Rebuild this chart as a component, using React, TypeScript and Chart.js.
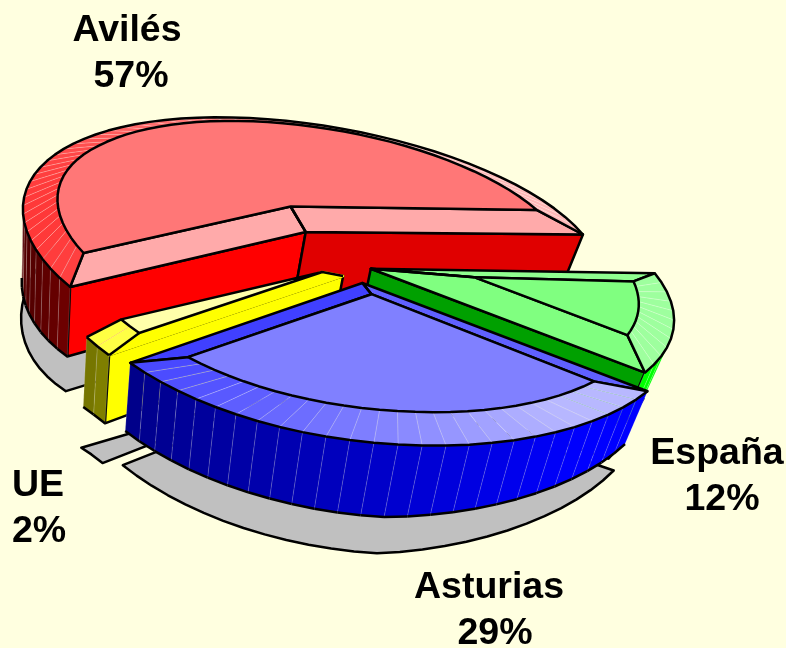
import React, { useEffect, useRef } from "react";
import { Chart, registerables } from "chart.js";

Chart.register(...registerables);

// data (order is clockwise from the east)
const categories = ["España", "Asturias", "UE", "Avilés"];
const shares = [12, 29, 2, 57];

// styling
const explodeOffsets = [2, 5, 8, 33];
const sliceLift = [8, 0, 5, 0];
const sliceRadius = [0.96, 1, 1, 0.98];
const sliceShiftU = [0.01, 0, 0, -0.03];
const baseColors = ["#00FF00", "#0000FF", "#FFFF00", "#FF0000"];
const topColors = ["#80FF80", "#8080FF", "#FFFFAA", "#FF7777"];
const bevelStart = ["#90FF90", "#6060FF", "#FFFF00", "#FFAAAA"];
const bevelEnd = ["#80FF80", "#4040FF", "#FFFFAA", "#FFAAAA"];
const bevelMaxTint = [0.62, 0.72, 0.72, 0.72];
const wallStart = ["#00A000", "#0000FF", "#FFFF00", "#FF0000"];
const wallEnd = ["#00A000", "#0000C0", "#FFFF00", "#E00000"];
const paintOrder = [3, 0, 2, 1];
const labelPlaces: Record<string, [number, number, CanvasTextAlign, number]> = {
  "Avilés": [127, 31, "center", 4],
  "España": [717, 454, "center", 5],
  "Asturias": [489, 588, "center", 6],
  "UE": [12, 486, "left", 0],
};

// projection of the pie plane onto the canvas
const CX = 360, CY = 276, RX = 298, RY = 139, SKEW_A = 66, SKEW_B = 16, PERSP = 0.125, ROLL = 0.025;
const WALL = 60, BEVEL = 10, INSET = 0.12, SHADOW_DROP = 30, LW = 2.5;

type Pt = [number, number];
const project = (u: number, v: number, z: number): Pt => {
  const w = 1 / (1 - PERSP * v);
  const X = CX + (RX * u + SKEW_A * v - SKEW_B * v * v) * w;
  const Y = CY + RY * v * w + ROLL * (X - CX);
  const tilt = (X + 12) * 0.00057;
  const hf = 1.05 - Math.max(0, X - 400) * 0.001 + Math.max(0, 100 - X) * 0.003;
  return [X + z * tilt, Y - z * w * hf];
};
const area = (p: Pt[]) => {
  let s = 0;
  p.forEach((a, i) => {
    const b = p[(i + 1) % p.length];
    s += a[0] * b[1] - b[0] * a[1];
  });
  return s;
};
const hex = (c: string) => [1, 3, 5].map((i) => parseInt(c.slice(i, i + 2), 16));
const toHex = (a: number[]) =>
  "rgb(" + a.map((x) => Math.round(Math.max(0, Math.min(255, x)))).join(",") + ")";
const scale = (c: string, t: number) => toHex(hex(c).map((x) => x * t));
const tint = (c: string, t: number) => toHex(hex(c).map((x) => x + (255 - x) * t));
const clamp = (x: number, a: number, b: number) => Math.max(a, Math.min(b, x));

const poly = (ctx: CanvasRenderingContext2D, p: Pt[], fill: string, stroke: string, lw: number) => {
  ctx.beginPath();
  p.forEach((q, i) => (i ? ctx.lineTo(q[0], q[1]) : ctx.moveTo(q[0], q[1])));
  ctx.closePath();
  ctx.fillStyle = fill;
  ctx.fill();
  if (lw > 0) {
    ctx.strokeStyle = stroke;
    ctx.lineWidth = lw;
    ctx.stroke();
  }
};

const pie3d = {
  id: "pie3d",
  beforeDatasetsDraw(chart: any) {
    const ctx: CanvasRenderingContext2D = chart.ctx;
    const arcs = chart.getDatasetMeta(0).data;
    ctx.save();
    ctx.lineJoin = "round";
    const geo = arcs.map((el: any, i: number) => {
      const a0 = el.startAngle, a1 = el.endAngle, m = (a0 + a1) / 2, half = (a1 - a0) / 2;
      const e = el.options.offset / 100;
      const ex = e * Math.cos(m) + sliceShiftU[i], ey = e * Math.sin(m);
      const n = Math.max(2, Math.round((a1 - a0) / (4 * Math.PI / 180)));
      const angles = Array.from({ length: n + 1 }, (_, k) => a0 + ((a1 - a0) * k) / n);
      return { a0, a1, m, half, ex, ey, angles, R: sliceRadius[i] };
    });

    // shadows on the ground
    const edge = (g: any, z: number): Pt[] => [
      project(g.ex, g.ey, z),
      ...g.angles.map((a: number) => project(g.ex + g.R * Math.cos(a), g.ey + g.R * Math.sin(a), z)),
    ];
    paintOrder.forEach((i) => {
      poly(ctx, edge(geo[i], -WALL - SHADOW_DROP), "#C0C0C0", "#000", LW);
    });

    paintOrder.forEach((i) => {
      const g = geo[i];
      const L = sliceLift[i];
      const rim = (a: number, z: number) =>
        project(g.ex + g.R * Math.cos(a), g.ey + g.R * Math.sin(a), z + L);
      const apex = (z: number) => project(g.ex, g.ey, z + L);
      // walls
      const wall = (p: (z: number) => Pt, q: (z: number) => Pt, fill: string, stroke: string, lw: number) => {
        const quad = [p(0), q(0), q(-WALL), p(-WALL)];
        if (area(quad) < 0) poly(ctx, quad, fill, stroke, lw);
      };
      wall(apex, (z) => rim(g.a0, z), wallStart[i], "#000", LW);
      wall((z) => rim(g.a1, z), apex, wallEnd[i], "#000", LW);
      for (let k = 0; k < g.angles.length - 1; k++) {
        const a = g.angles[k], b = g.angles[k + 1];
        const nx = Math.cos((a + b) / 2);
        const col = scale(baseColors[i], clamp(0.82 + 0.34 * nx - Math.max(0, -nx - 0.8) * 0.8, 0, 1));
        wall((z) => rim(a, z), (z) => rim(b, z), col, "rgba(255,255,255,0.15)", 1);
      }
      // black outline of the visible curved wall
      for (let k = 0; k < g.angles.length - 1; k++) {
        const a = g.angles[k], b = g.angles[k + 1];
        if (area([rim(a, 0), rim(b, 0), rim(b, -WALL), rim(a, -WALL)]) < 0) {
          ctx.beginPath();
          ctx.moveTo(...rim(a, -WALL));
          ctx.lineTo(...rim(b, -WALL));
          ctx.strokeStyle = "#000";
          ctx.lineWidth = LW;
          ctx.stroke();
        }
      }
      // bevel
      const dr = g.half < 0.2 ? 0.1 * Math.sin(g.half) : Math.min(INSET, 0.45 * Math.sin(g.half));
      const t = dr / Math.sin(g.half);
      const ri = g.R - INSET;
      const del = Math.asin(dr / ri);
      const inAng = (a: number) => g.a0 + del + ((a - g.a0) / (g.a1 - g.a0)) * (g.a1 - g.a0 - 2 * del);
      const inner = (a: number) =>
        project(g.ex + ri * Math.cos(inAng(a)), g.ey + ri * Math.sin(inAng(a)), BEVEL + L);
      const apexIn = project(g.ex + t * Math.cos(g.m), g.ey + t * Math.sin(g.m), BEVEL + L);
      const bevelQuad = (q: Pt[], fill: string, stroke: string, lw: number) => {
        if (area(q) > 0) poly(ctx, q, fill, stroke, lw);
      };
      const startStroke = bevelStart[i] === wallStart[i] ? bevelStart[i] : "#000";
      bevelQuad([apex(0), rim(g.a0, 0), inner(g.a0), apexIn], bevelStart[i], startStroke, LW);
      bevelQuad([rim(g.a1, 0), apex(0), apexIn, inner(g.a1)], bevelEnd[i], "#000", LW);
      for (let k = 0; k < g.angles.length - 1; k++) {
        const a = g.angles[k], b = g.angles[k + 1];
        const nx = Math.cos((a + b) / 2);
        const col = tint(baseColors[i], clamp(0.55 + 0.33 * nx, 0.2, bevelMaxTint[i]));
        bevelQuad([rim(a, 0), rim(b, 0), inner(b), inner(a)], col, "rgba(255,255,255,0.2)", 1);
      }
      // rim and corner lines
      ctx.strokeStyle = "#000";
      ctx.lineWidth = LW;
      ctx.beginPath();
      g.angles.forEach((a: number, k: number) => {
        const p = rim(a, 0);
        k ? ctx.lineTo(p[0], p[1]) : ctx.moveTo(p[0], p[1]);
      });
      ctx.stroke();
      // top face
      poly(ctx, [apexIn, ...g.angles.map((a: number) => inner(a))], topColors[i], "#000", LW);
      [g.a0, g.a1].forEach((a) => {
        ctx.beginPath();
        ctx.moveTo(...rim(a, 0));
        ctx.lineTo(...inner(a));
        ctx.stroke();
      });
      ctx.beginPath();
      ctx.moveTo(...apex(0));
      ctx.lineTo(...apexIn);
      ctx.stroke();
    });
    ctx.restore();
    return false;
  },
  afterDraw(chart: any) {
    const ctx: CanvasRenderingContext2D = chart.ctx;
    ctx.save();
    ctx.fillStyle = "#000";
    ctx.font = 'bold 37.5px "Liberation Sans"';
    ctx.textBaseline = "middle";
    categories.forEach((c, i) => {
      const [x, y, align, pctShift] = labelPlaces[c];
      ctx.textAlign = align;
      ctx.fillText(c, x, y);
      ctx.fillText(shares[i] + "%", x + pctShift, y + 46);
    });
    ctx.restore();
  },
};

export default function App() {
  const ref = useRef<HTMLCanvasElement>(null);
  useEffect(() => {
    const chart = new Chart(ref.current!, {
      type: "pie",
      data: {
        labels: categories,
        datasets: [{ data: shares, backgroundColor: baseColors, offset: explodeOffsets, borderWidth: 0 }],
      },
      options: {
        animation: false,
        responsive: false,
        rotation: 88,
        plugins: { legend: { display: false }, tooltip: { enabled: false } },
      },
      plugins: [pie3d],
    } as any);
    return () => chart.destroy();
  }, []);
  return (
    <div style={{ position: "absolute", left: 0, top: 0, width: 786, height: 648, background: "#FFFFE0" }}>
      <canvas ref={ref} width={786} height={648} style={{ display: "block" }} />
    </div>
  );
}
